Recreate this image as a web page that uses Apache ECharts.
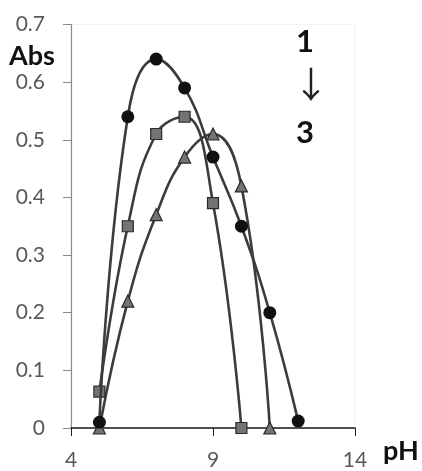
<!DOCTYPE html>
<html><head><meta charset="utf-8">
<script src="https://cdn.jsdelivr.net/npm/echarts@6/dist/echarts.min.js"></script>
<style>html,body{margin:0;padding:0;background:#fff}#c{width:422px;height:471px}</style>
</head><body><div id="c"></div>
<script>
const pH1 = [5, 6, 7, 8, 9, 10, 11, 12];
const abs1 = [0.01, 0.54, 0.64, 0.59, 0.47, 0.35, 0.20, 0.012];
const pH2 = [5, 6, 7, 8, 9, 10];
const abs2 = [0.063, 0.35, 0.51, 0.54, 0.39, 0.0];
const pH3 = [5, 6, 7, 8, 9, 10, 11];
const abs3 = [0.0, 0.22, 0.37, 0.47, 0.51, 0.42, 0.0];
const xTicks = [4, 9, 14];
const yTicks = [0, 0.1, 0.2, 0.3, 0.4, 0.5, 0.6, 0.7];

const zip = (xs, ys) => xs.map((x, i) => [x, ys[i]]);
const chart = echarts.init(document.getElementById('c'), null, {renderer: 'canvas'});
const lineColor = '#3c3c3c';
const font = 'Lato, "Open Sans", sans-serif';
const mkSeries = (name, data, symbol, size, fill, z) => ({
  name, type: 'line', data, smooth: 0.45, symbol, symbolSize: size,
  lineStyle: {color: lineColor, width: 2.6},
  itemStyle: {color: fill, borderColor: '#2a2a2a', borderWidth: symbol === 'circle' ? 0 : 1.2},
  z
});
chart.setOption({
  animation: false,
  grid: {left: 71, right: 67, top: 24.5, bottom: 41, show: true, borderColor: '#f2f2f2', borderWidth: 1},
  xAxis: {
    type: 'value', min: 4, max: 14, interval: 5,
    axisLine: {onZero: false, lineStyle: {color: '#1a1a1a', width: 1.5}},
    axisTick: {show: true, length: 8, lineStyle: {color: '#1a1a1a'}},
    axisLabel: {color: '#595959', fontSize: 21, fontFamily: font, margin: 22,
      formatter: v => xTicks.includes(v) ? String(v) : ''},
    splitLine: {show: false}
  },
  yAxis: {
    type: 'value', min: 0, max: 0.7, interval: 0.1,
    axisLine: {show: true, lineStyle: {color: '#8c8c8c', width: 1.2}},
    axisTick: {show: true, length: 8, lineStyle: {color: '#8c8c8c'}},
    axisLabel: {color: '#595959', fontSize: 21, fontFamily: font, margin: 26,
      formatter: v => { const t = yTicks.find(y => Math.abs(y - v) < 1e-9); return t === undefined ? '' : String(+t.toFixed(1)); }},
    splitLine: {show: false}
  },
  series: [
    mkSeries('1', zip(pH1, abs1), 'circle', 13, '#111111', 3),
    mkSeries('2', zip(pH2, abs2), 'rect', 11, '#737373', 2),
    mkSeries('3', zip(pH3, abs3), 'triangle', 12, '#737373', 1)
  ],
  graphic: [
    {type: 'text', left: 9, top: 43, style: {text: 'Abs', fontSize: 27, fontWeight: 'bold', fontFamily: font, fill: '#111'}},
    {type: 'text', left: 383, top: 438, style: {text: 'pH', fontSize: 27, fontWeight: 'bold', fontFamily: font, fill: '#111'}},
    {type: 'text', left: 296, top: 26, style: {text: '1', fontSize: 31, fontWeight: 'bold', fontFamily: font, fill: '#111'}},
    {type: 'text', left: 293, top: 66, style: {text: '↓', fontSize: 36, fontFamily: '"Noto Sans CJK SC", "DejaVu Sans", sans-serif', fill: '#222'}},
    {type: 'text', left: 296, top: 117, style: {text: '3', fontSize: 31, fontWeight: 'bold', fontFamily: font, fill: '#111'}}
  ]
});
</script></body></html>
